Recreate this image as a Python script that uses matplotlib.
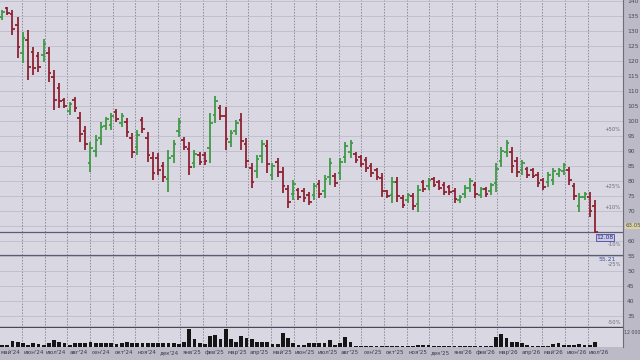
import numpy as np
import matplotlib.pyplot as plt

# weekly OHLC
high = [137.0, 138.0, 137.0, 134.7, 129.7, 130.3, 124.7, 123.0, 127.3, 124.7,
        117.0, 112.7, 107.7, 106.3, 108.0, 103.0, 98.3, 93.0, 95.3, 99.7,
        101.3, 102.7, 104.0, 102.7, 101.0, 96.0, 97.0, 101.3, 96.3, 89.7,
        89.3, 86.3, 90.3, 93.7, 101.0, 94.7, 93.0, 90.3, 89.7, 89.7,
        102.7, 108.3, 105.3, 104.7, 97.0, 100.3, 102.7, 94.3, 86.0, 88.7,
        93.7, 93.7, 86.0, 87.7, 84.7, 78.7, 80.3, 77.7, 77.7, 76.3,
        79.3, 80.3, 82.0, 87.7, 82.7, 87.7, 93.0, 93.7, 89.7, 88.7,
        88.0, 86.0, 84.3, 82.7, 77.0, 81.3, 81.3, 75.3, 76.0, 76.0,
        78.7, 80.3, 81.0, 81.3, 80.3, 79.7, 78.7, 77.7, 75.3, 78.7,
        81.0, 79.7, 78.0, 78.0, 79.3, 86.0, 91.3, 93.7, 91.3, 88.0,
        87.0, 84.7, 84.3, 83.0, 81.0, 83.0, 84.3, 84.3, 86.0, 84.7,
        79.3, 76.0, 76.3, 76.3, 73.7]
low = [133.7, 135.3, 128.7, 121.0, 119.3, 113.7, 115.3, 116.3, 119.7, 113.0,
       103.7, 104.3, 104.3, 102.0, 103.0, 93.0, 90.3, 83.0, 88.0, 92.0,
       97.0, 97.0, 99.7, 98.0, 94.7, 87.7, 88.7, 96.0, 86.3, 80.3,
       82.0, 79.7, 76.3, 86.0, 94.7, 90.3, 82.0, 84.3, 85.3, 85.3,
       86.0, 99.3, 100.3, 90.3, 91.3, 95.3, 90.3, 84.3, 77.7, 81.0,
       86.0, 82.7, 80.3, 81.3, 76.0, 71.0, 73.7, 73.7, 73.0, 72.0,
       73.7, 74.3, 74.3, 78.7, 78.0, 80.3, 86.0, 87.7, 86.0, 84.7,
       83.0, 81.3, 80.3, 74.7, 74.3, 72.7, 73.0, 71.0, 72.7, 70.3,
       69.7, 76.3, 77.0, 78.0, 77.0, 75.3, 75.3, 72.7, 72.7, 74.3,
       76.3, 74.3, 74.3, 74.7, 75.3, 76.3, 84.7, 88.0, 82.7, 81.3,
       82.0, 81.0, 81.0, 78.0, 77.0, 78.0, 78.7, 81.3, 82.0, 78.7,
       73.7, 69.7, 73.7, 68.0, 62.7]
opens = [134.7, 137.5, 135.5, 132.0, 122.5, 127.0, 123.0, 121.5, 122.0, 122.5,
         114.5, 111.0, 107.0, 103.3, 107.0, 101.0, 96.7, 86.0, 90.0, 94.3,
         98.3, 98.7, 103.0, 99.4, 99.7, 94.3, 91.2, 100.2, 94.3, 87.8,
         87.8, 85.0, 80.5, 88.3, 96.6, 93.8, 90.8, 86.1, 88.8, 88.5,
         91.0, 102.0, 104.3, 101.8, 93.0, 96.8, 100.2, 92.3, 84.3, 83.3,
         88.3, 91.5, 82.0, 86.4, 83.0, 77.2, 75.7, 76.9, 76.8, 75.4,
         75.4, 79.1, 76.6, 81.4, 81.8, 82.5, 88.1, 89.5, 89.0, 87.9,
         87.0, 85.1, 83.5, 81.1, 76.5, 75.3, 79.6, 74.4, 73.7, 74.9,
         72.4, 79.5, 78.2, 80.6, 79.6, 78.8, 78.0, 76.7, 73.5, 75.6,
         77.7, 78.6, 75.4, 77.3, 76.5, 79.2, 86.7, 89.7, 89.6, 86.7,
         83.5, 84.0, 83.6, 82.0, 80.2, 79.5, 80.4, 82.2, 83.2, 83.5,
         78.2, 71.6, 74.5, 74.6, 71.5]
closes = [136.3, 136.0, 130.7, 124.5, 127.5, 118.0, 117.5, 118.0, 125.8, 116.0,
          107.0, 106.5, 105.0, 105.5, 104.3, 95.5, 92.3, 91.0, 93.8, 98.0,
          100.5, 101.5, 100.8, 101.7, 96.3, 89.8, 95.3, 97.3, 88.8, 82.6,
          83.8, 81.3, 87.5, 92.2, 99.7, 91.4, 84.8, 89.1, 86.4, 86.5,
          99.4, 106.5, 101.6, 93.9, 95.9, 99.3, 93.4, 86.8, 79.8, 87.2,
          92.2, 85.5, 84.9, 82.9, 78.2, 72.9, 79.0, 74.7, 74.2, 73.1,
          78.2, 75.8, 80.5, 85.9, 79.2, 86.2, 91.6, 92.5, 86.9, 85.7,
          84.3, 82.5, 81.3, 76.7, 75.0, 79.6, 75.1, 72.1, 75.3, 71.7,
          76.9, 77.3, 80.2, 78.8, 77.8, 76.4, 76.2, 74.0, 74.8, 77.8,
          80.1, 75.7, 77.3, 75.5, 78.5, 84.1, 90.0, 92.6, 84.9, 83.0,
          86.0, 81.9, 81.8, 79.3, 78.0, 82.0, 83.2, 83.7, 85.2, 80.2,
          75.1, 74.7, 75.8, 70.1, 63.05]
# volume, thousands
volume = [10, 10, 34, 26, 20, 14, 24, 16, 14, 20,
          40, 30, 20, 10, 20, 20, 20, 30, 24, 24,
          20, 24, 16, 20, 30, 24, 20, 20, 20, 24,
          24, 24, 24, 24, 16, 30, 100, 44, 24, 16,
          60, 70, 44, 100, 44, 30, 64, 54, 44, 30,
          30, 30, 16, 16, 80, 50, 20, 10, 10, 24,
          20, 20, 20, 40, 10, 20, 56, 30, 6, 6,
          6, 6, 6, 6, 6, 6, 6, 6, 6, 6,
          14, 14, 14, 6, 6, 6, 6, 4, 4, 4,
          4, 4, 4, 4, 4, 56, 76, 50, 30, 30,
          20, 10, 6, 6, 6, 6, 16, 20, 10, 10,
          10, 16, 10, 10, 26]

months = ["май'24", "июн'24", "июл'24", "авг'24", "сен'24", "окт'24", "ноя'24", "дек'24",
          "янв'25", "фев'25", "мар'25", "апр'25", "май'25", "июн'25", "июл'25", "авг'25",
          "сен'25", "окт'25", "ноя'25", "дек'25",
          "янв'26", "фев'26", "мар'26", "апр'26", "май'26", "июн'26", "июл'26"]

last_price = 63.05
support = 55.21
price_ticks = [35, 40, 45, 50, 55, 60, 70, 75, 80, 85, 90, 95, 100, 105,
               110, 115, 120, 125, 130, 135, 140]
pct_labels = ['+50%', '+25%', '+10%', '-10%', '-25%', '-50%']
pct_prices = [97.0, 78.3, 71.3, 58.7, 52.0, 32.7]

bg = '#d9d7e1'
red = '#8e2233'
green = '#3f9a45'

x = np.arange(len(high))
cols = [green if c >= o else red for o, c in zip(opens, closes)]

fig = plt.figure(figsize=(6.4, 3.6), dpi=100)
fig.patch.set_facecolor('#bcbac6')
ax = fig.add_axes([0, 32 / 360, 623 / 640, 328 / 360])
axv = fig.add_axes([0, 13 / 360, 623 / 640, 19 / 360], sharex=ax)

for a in (ax, axv):
    a.set_facecolor(bg)
    for s in ('left', 'top', 'bottom'):
        a.spines[s].set_visible(False)
    a.spines['right'].set_color('#6e6c7a')
    a.spines['right'].set_linewidth(0.8)

# month separators
bounds = 3.85 + 4.35 * np.arange(26)
centers = 3.85 + 4.35 * (np.arange(len(months)) - 0.5)
for b in bounds:
    ax.axvline(b, color='#8c8a98', lw=0.7, ls=(0, (1.5, 1.5)), zorder=1)
    axv.axvline(b, color='#8c8a98', lw=0.7, ls=(0, (1.5, 1.5)), zorder=1)

# price panel
ax.set_xlim(-0.4, 119.4)
ax.set_ylim(31, 140.33)
ax.set_yticks(price_ticks)
ax.yaxis.tick_right()
ax.tick_params(axis='y', length=0, labelsize=4.3, labelcolor='#4a4858', pad=3)
ax.tick_params(axis='x', bottom=False, labelbottom=False)
ax.grid(axis='y', color='#bebccb', lw=0.6, zorder=0)
ax.axhline(65, color='#bebccb', lw=0.6, zorder=0)

ax.vlines(x, low, high, colors=cols, lw=1.3, zorder=3)
ax.hlines(opens, x - 0.5, x, colors=cols, lw=1.3, zorder=3)
ax.hlines(closes, x, x + 0.5, colors=cols, lw=1.3, zorder=3)

ax.axhline(last_price, color='#5a5c72', lw=0.9, zorder=2)
ax.axhline(support, color='#5a5c72', lw=0.9, zorder=2)
ax.axhline(31.4, color='#4a4858', lw=1.0, zorder=2)

ax.text(1.004, last_price + 2.0, '63.05', transform=ax.get_yaxis_transform(),
        fontsize=3.9, color='#4a4858', va='center', clip_on=False,
        bbox=dict(boxstyle='square,pad=0.1', fc='#d8d2a0', ec='none'))
ax.text(114.3, last_price - 1.0, '12.08', fontsize=4.3, color='#2a2a6a', va='top',
        bbox=dict(boxstyle='square,pad=0.15', fc='#c8c8e8', ec='#4848a0', lw=0.6))
ax.text(114.6, support - 0.6, '55.21', fontsize=4.3, color='#4050a0', va='top')
for lab, p in zip(pct_labels, pct_prices):
    ax.text(119.0, p, lab, fontsize=3.8, color='#6a6878', ha='right', va='center')

# volume panel
axv.bar(x, volume, width=0.75, color='#151518', zorder=3)
axv.set_ylim(0, 108)
axv.set_yticks([])
axv.set_xticks(centers)
axv.set_xticklabels(months)
axv.tick_params(axis='x', length=0, labelsize=4.0, labelcolor='#3a3848', pad=2.5)
fig.text(624.5 / 640, 1 - 332 / 360, '12 000', fontsize=3.4, color='#4a4858', va='center')

fig.savefig('out.png', dpi=100, facecolor=fig.get_facecolor())
